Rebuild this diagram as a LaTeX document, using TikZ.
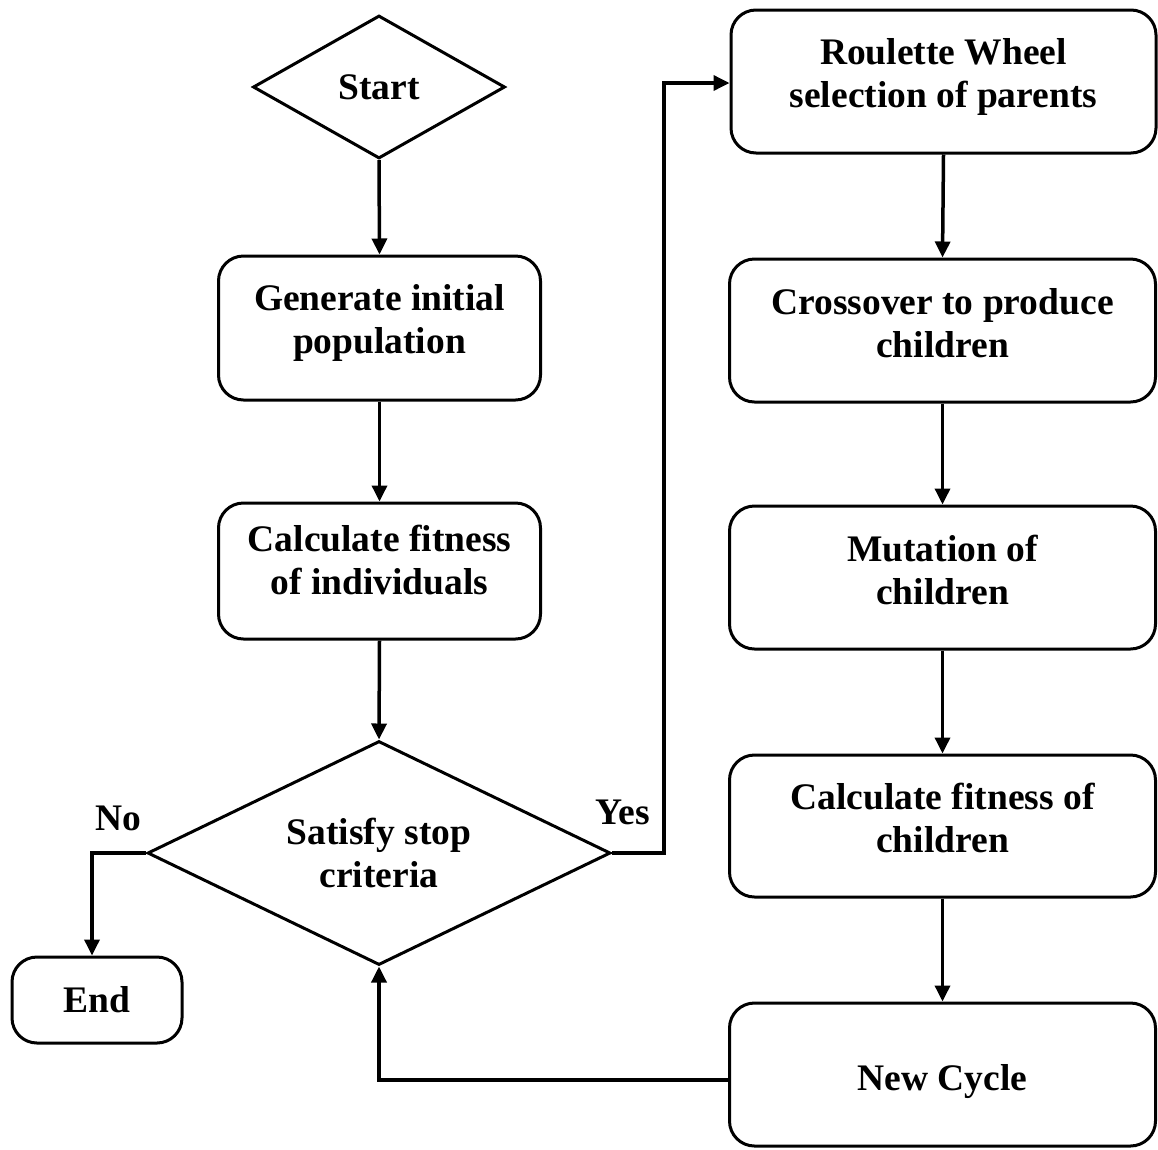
\documentclass[tikz,border=0pt]{standalone}
\usepackage{fontspec}
\setmainfont{Liberation Serif}
\usetikzlibrary{shapes.geometric,arrows.meta}
\begin{document}
\begin{tikzpicture}[x=1pt,y=-1pt,
  every node/.style={font=\fontsize{37.5}{43}\selectfont\bfseries, align=center},
  box/.style={draw, line width=3pt, rounded corners=25pt, inner sep=0pt},
  dia/.style={draw, diamond, line width=3pt, inner sep=0pt},
  conn/.style={line width=3.5pt, -{Triangle[length=16pt,width=15pt]}},
  dd/.style={execute at end node={\rule[-#1]{0pt}{#1}}},
  hh/.style={execute at end node={\rule{0pt}{#1}}},
  lbl/.style={}
]
\useasboundingbox (0,0) rectangle (1158,1149);
\node[dia, aspect=1.76, minimum width=252pt, minimum height=143pt] (start) at (379,87) {Start};
\node[box, dd=18pt, minimum width=322pt, minimum height=144pt] (gen) at (379.5,328) {Generate initial\\population};
\node[box, dd=22pt, minimum width=322pt, minimum height=136pt] (calc) at (379.5,571) {Calculate fitness\\of individuals};
\node[dia, aspect=2.07, minimum width=463pt, minimum height=224pt] (dec) at (379,853) {Satisfy stop\\criteria};
\node[box, minimum width=170pt, minimum height=86pt] (endn) at (97,1000) {End};
\node[box, dd=18pt, minimum width=425pt, minimum height=143pt] (r1) at (943.5,81.5) {Roulette Wheel\\selection of parents};
\node[box, dd=16pt, minimum width=426pt, minimum height=143pt] (r2) at (942.5,330.5) {Crossover to produce\\children};
\node[box, dd=16pt, minimum width=426pt, minimum height=143pt] (r3) at (942.5,577.5) {Mutation of\\children};
\node[box, dd=16pt, minimum width=426pt, minimum height=142pt] (r4) at (942.5,826) {Calculate fitness of\\children};
\node[box, hh=40pt, minimum width=426pt, minimum height=143pt] (r5) at (942.5,1074.5) {New Cycle};
\node[lbl] (no) at (118,818) {No};
\node[lbl] (yes) at (623,812) {Yes};
\coordinate (yk) at (664,853);
\coordinate (nk) at (92,853);
\draw[conn] (start.south) -- (gen.north);
\draw[conn] (gen.south) -- (calc.north);
\draw[conn] (calc.south) -- (dec.north);
\draw[conn] (dec.west) -- (nk) -- (nk |- endn.north);
\draw[conn] (dec.east) -- (yk) |- ([yshift=-1.5pt]r1.west);
\draw[conn] (r1.south) -- (r2.north);
\draw[conn] (r2.south) -- (r3.north);
\draw[conn] (r3.south) -- (r4.north);
\draw[conn] (r4.south) -- (r5.north);
\draw[conn] ([yshift=-5.5pt]r5.west) -| (dec.south);
\end{tikzpicture}
\end{document}
